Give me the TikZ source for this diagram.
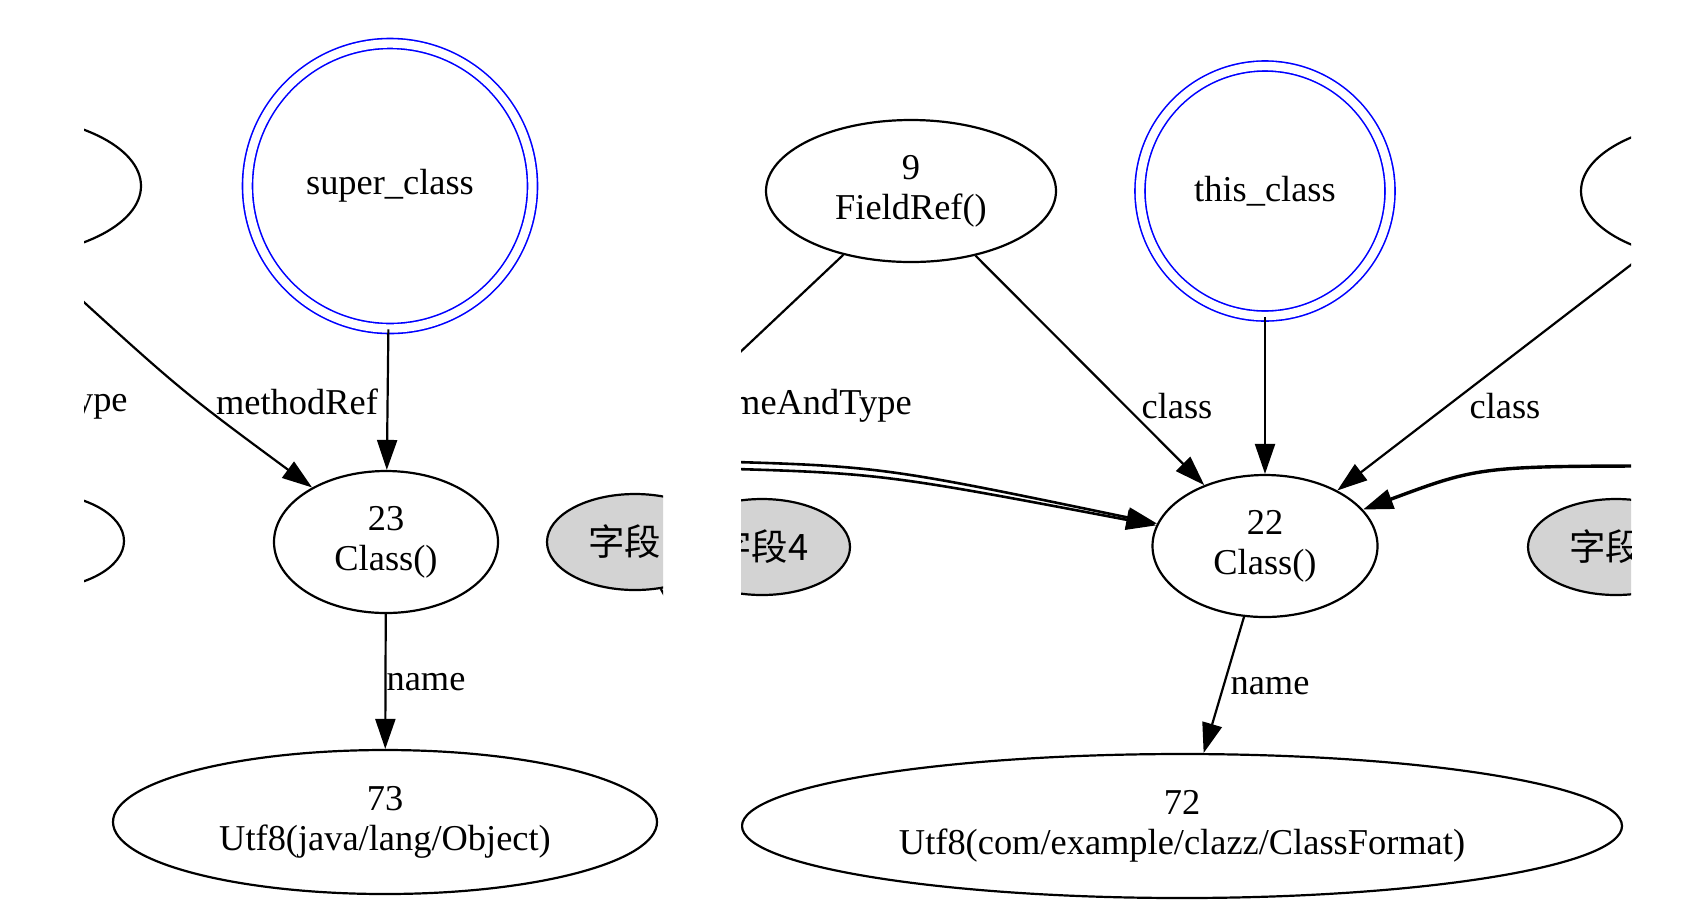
\documentclass[tikz,border=0pt]{standalone}
\usepackage{fontspec}
\setmainfont{Liberation Serif}
\newfontfamily\cjk{Noto Sans CJK SC}
\usetikzlibrary{shapes.geometric,arrows.meta}
\definecolor{fieldgrey}{HTML}{D3D3D3}
\newcommand\gvfont{\fontsize{18.2}{20}\selectfont}
\tikzset{
  cp/.style={ellipse,draw,line width=1.1pt,inner sep=0pt,align=center,minimum height=71pt},
  entry/.style={circle,draw=blue,line width=0.8pt,double,double distance=4.2pt,inner sep=0pt},
  fld/.style={ellipse,draw,fill=fieldgrey,line width=1.1pt,inner sep=0pt,
    minimum width=88pt,minimum height=48pt,font=\gvfont\cjk},
  ref/.style={-{Triangle[length=15pt,width=10pt]},line width=1.1pt},
  lbl/.style={inner sep=0pt}
}

\begin{document}
\begin{tikzpicture}[x=0.5pt,y=-0.5pt,font=\gvfont]
  \useasboundingbox (0,0) rectangle (1696,912);
  % left part
  \begin{scope}
    \clip (84,0) rectangle (663,912);
    \node[cp,minimum width=146pt] (mref) at (-5,186) {};
    \node[cp,minimum width=88pt,minimum height=48pt] (lmid) at (36,541) {};
    \node[entry,minimum size=142.5pt] (sup) at (390,186) {super\_class};
    \node[cp,minimum width=112pt] (c23) at (386,542) {23\\Class()};
    \node[fld] (f5) at (635,542) {字段\phantom{0}};
    \node[cp,minimum width=272pt,minimum height=72pt] (u73) at (385,822)
      {73\\Utf8(java/lang/Object)};
    \coordinate (mrsrc) at (40,262);
    \coordinate (f5out) at (700,660);
    \draw[ref] (mrsrc) .. controls (180,390) .. (c23);
    \draw[ref] (sup) -- (c23);
    \draw[ref] (c23) -- (u73);
    \draw[line width=1.1pt] (f5) -- (f5out);
    \node[lbl,anchor=east] (lnat1) at (128,403) {nameAndType};
    \node[lbl] (lmr) at (297,402) {methodRef};
    \node[lbl] (ln23) at (426,682) {name};
  \end{scope}
  % right part
  \begin{scope}
    \clip (741,0) rectangle (1631,912);
    \node[cp,minimum width=145pt] (fr9) at (911,191) {9\\FieldRef()};
    \node[entry,minimum size=125pt] (thc) at (1265,191) {this\_class};
    \node[cp,minimum width=146pt] (rref) at (1727,191) {};
    \node[fld] (f4) at (762,547) {字段4};
    \node[fld] (f6) at (1616,547) {字段\phantom{0}};
    \node[cp,minimum width=112.5pt] (c22) at (1265,546) {22\\Class()};
    \node[cp,minimum width=440pt,minimum height=72pt] (u72) at (1182,826)
      {72\\Utf8(com/example/clazz/ClassFormat)};
    \coordinate (fr9out) at (700,390);
    \coordinate (dblA) at (700,461);
    \coordinate (dblB) at (700,468);
    \coordinate (rcv) at (1680,466);
    \draw[line width=1.1pt] (fr9) -- (fr9out);
    \draw[ref] (fr9) -- (c22);
    \draw[ref] (thc) -- (c22);
    \draw[ref] (rref) -- (c22);
    \draw[ref,line width=1.3pt] (dblA) .. controls (880,466) .. (c22);
    \draw[ref,line width=1.3pt] (dblB) .. controls (880,473) .. (c22);
    \draw[ref,line width=1.7pt] (rcv) .. controls (1480,466) .. (c22);
    \draw[ref] (c22) -- (u72);
    \node[lbl,anchor=east] (lnat2) at (912,406) {nameAndType};
    \node[lbl] (lcl1) at (1177,406) {class};
    \node[lbl] (lcl2) at (1505,406) {class};
    \node[lbl] (ln22) at (1270,686) {name};
  \end{scope}
\end{tikzpicture}
\end{document}
